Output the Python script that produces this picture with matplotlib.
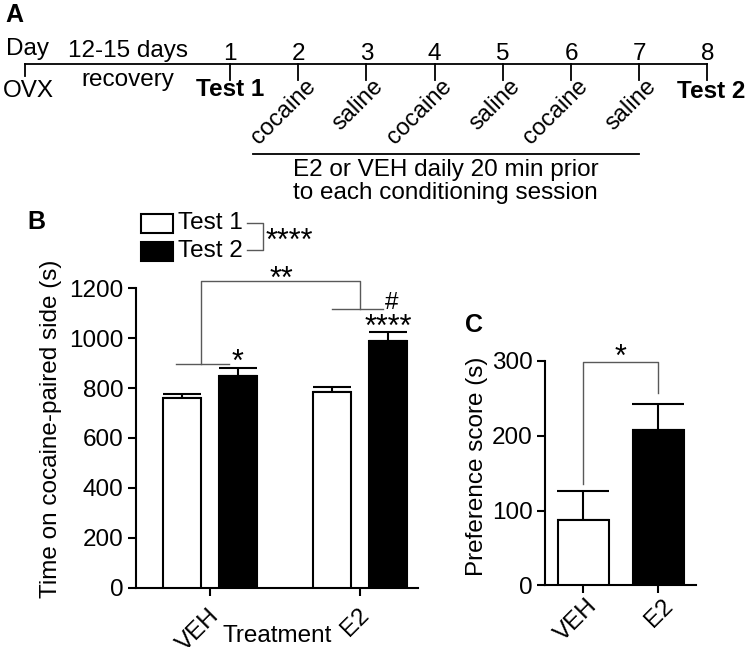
import numpy as np
import matplotlib
matplotlib.use("Agg")
import matplotlib.pyplot as plt
from matplotlib.patches import Rectangle
from matplotlib.transforms import ScaledTranslation

# ---- data ----
# panel A timeline
day_numbers = [1, 2, 3, 4, 5, 6, 7, 8]
session_days = [2, 3, 4, 5, 6, 7]
session_labels = ["cocaine", "saline", "cocaine", "saline", "cocaine", "saline"]
ovx_pos = -2

# panel B
groups = ["VEH", "E2"]
test1_mean = [761, 784]
test1_sem = [14, 19]
test2_mean = [847, 990]
test2_sem = [35, 34]

# panel C
pref_groups = ["VEH", "E2"]
pref_mean = [87, 208]
pref_sem = [39, 35]

W, H = 746, 647
FS = 17.5
STAR_FS = 22
LINE_C = "0.35"

plt.rcParams.update({
    "font.family": ["Liberation Sans", "DejaVu Sans"],
    "font.size": FS,
    "axes.linewidth": 1.5,
    "xtick.major.width": 1.5,
    "ytick.major.width": 1.5,
    "xtick.major.size": 6,
    "ytick.major.size": 6,
})

fig = plt.figure(figsize=(W / 100, H / 100), dpi=100)


def px(x, y):
    # figure pixel (top-left origin) -> figure fraction
    return x / W, 1 - y / H


def box(left, top, right, bottom):
    return [left / W, 1 - bottom / H, (right - left) / W, (bottom - top) / H]


def shift_labels(labels, dx):
    for lab in labels:
        lab.set_transform(lab.get_transform() + ScaledTranslation(dx / 100, 0, fig.dpi_scale_trans))


# ---------------- panel A ----------------
axA = fig.add_axes(box(0, 0, W, 200))
spacing = 68.2
x0 = 1 - 230 / spacing
axA.set_xlim(x0, x0 + W / spacing)
axA.set_ylim(200, 0)
axA.axis("off")

line_y = 64
axA.plot([ovx_pos, day_numbers[-1]], [line_y, line_y], color="black", lw=1.3)
axA.plot([ovx_pos, ovx_pos], [line_y, 76], color="black", lw=1.3)
for d in day_numbers:
    axA.plot([d, d], [line_y, 80], color="black", lw=1.3)
    axA.text(d, 60, str(d), ha="center", va="baseline")

axA.text(x0 + 6 / spacing, 55, "Day", ha="left", va="baseline")
axA.text((ovx_pos + day_numbers[0]) / 2, 57, "12-15 days", ha="center", va="baseline")
axA.text((ovx_pos + day_numbers[0]) / 2, 80, "recovery", ha="center", va="center")
axA.text(ovx_pos + 0.04, 91, "OVX", ha="center", va="center")
axA.text(day_numbers[0], 90, "Test 1", ha="center", va="center", fontweight="bold")
axA.text(day_numbers[-1] + 0.06, 91, "Test 2", ha="center", va="center", fontweight="bold")

for d, lab in zip(session_days, session_labels):
    axA.text(d + 0.09, 75, lab, rotation=45, ha="right", va="top",
             rotation_mode="anchor", fontsize=17)

u0, u1 = 1.33, session_days[-1]
axA.plot([u0, u1], [154, 154], color="black", lw=1.3)
axA.text((u0 + u1) / 2, 170, "E2 or VEH daily 20 min prior", ha="center", va="center")
axA.text((u0 + u1) / 2, 193, "to each conditioning session", ha="center", va="center")

fig.text(*px(5, 15), "A", ha="left", va="center", fontsize=18, fontweight="bold")

# ---------------- panel B ----------------
axB = fig.add_axes(box(136, 288.3, 418, 587.7))
x = np.arange(len(groups))
off, bw = 0.187, 0.253
zeros = np.zeros(len(groups))
axB.bar(x - off, test1_mean, width=bw, color="white", edgecolor="black", lw=1.5, zorder=3)
axB.bar(x + off, test2_mean, width=bw, color="black", edgecolor="black", lw=1.5, zorder=3)
axB.errorbar(x - off, test1_mean, yerr=[zeros, test1_sem], fmt="none", ecolor="black",
             elinewidth=1.5, capsize=14, capthick=1.5, zorder=2)
axB.errorbar(x + off, test2_mean, yerr=[zeros, test2_sem], fmt="none", ecolor="black",
             elinewidth=1.5, capsize=14, capthick=1.5, zorder=2)
axB.set_xlim(-0.493, 1.387)
axB.set_ylim(0, 1200)
axB.set_yticks(np.arange(0, 1201, 200))
axB.set_xticks(x)
axB.set_xticklabels(groups, rotation=45, ha="right", va="top", rotation_mode="anchor")
axB.tick_params(axis="x", pad=6)
axB.tick_params(axis="y", pad=3)
shift_labels(axB.get_xticklabels(), -2)
for s in ["top", "right"]:
    axB.spines[s].set_visible(False)
axB.set_ylabel("Time on cocaine-paired side (s)")
axB.yaxis.set_label_coords(-0.262, 0.532)
axB.set_xlabel("Treatment")
axB.xaxis.set_label_coords(0.5, -0.125)

# significance annotations
kw = dict(color=LINE_C, lw=1, clip_on=False)
axB.plot([-0.229, 0.125], [895, 895], **kw)
axB.plot([-0.058, -0.058, 1.0, 1.0], [895, 1230, 1230, 1117], **kw)
axB.plot([0.815, 1.155], [1117, 1117], **kw)
axB.text(0.478, 1203, "**", ha="center", va="baseline", fontsize=STAR_FS, clip_on=False)
axB.text(1.213, 1118, "#", ha="center", va="baseline", fontsize=FS, clip_on=False)
axB.text(1 + off, 1009, "****", ha="center", va="baseline", fontsize=STAR_FS, clip_on=False)
axB.text(off, 869, "*", ha="center", va="baseline", fontsize=STAR_FS, clip_on=False)

# legend
fig.patches.append(Rectangle(px(140.7, 232.7), 32.6 / W, 18.7 / H, transform=fig.transFigure,
                             facecolor="white", edgecolor="black", lw=1.5))
fig.patches.append(Rectangle(px(140.7, 260.7), 32.6 / W, 19 / H, transform=fig.transFigure,
                             facecolor="black", edgecolor="black", lw=1.5))
fig.text(*px(178, 223.5), "Test 1", ha="left", va="center")
fig.text(*px(178, 251), "Test 2", ha="left", va="center")
lx = [246.7 / W, 263.3 / W, 263.3 / W, 246.7 / W]
ly = [1 - 223.3 / H, 1 - 223.3 / H, 1 - 250 / H, 1 - 250 / H]
fig.add_artist(plt.Line2D(lx, ly, color=LINE_C, lw=1, transform=fig.transFigure))
fig.text(*px(266, 250), "****", ha="left", va="baseline", fontsize=STAR_FS)
fig.text(*px(27, 222), "B", ha="left", va="center", fontsize=18, fontweight="bold")

# ---------------- panel C ----------------
axC = fig.add_axes(box(545, 361, 696, 585.3))
xc = np.arange(len(pref_groups))
axC.bar(xc, pref_mean, width=0.68, color=["white", "black"], edgecolor="black", lw=1.5, zorder=3)
axC.errorbar(xc, pref_mean, yerr=[np.zeros(len(xc)), pref_sem], fmt="none", ecolor="black",
             elinewidth=1.5, capsize=19, capthick=1.5, zorder=2)
axC.set_xlim(-0.51, 1.5)
axC.set_ylim(0, 300)
axC.set_yticks([0, 100, 200, 300])
axC.set_xticks(xc)
axC.set_xticklabels(pref_groups, rotation=45, ha="right", va="top", rotation_mode="anchor")
axC.tick_params(axis="x", pad=1)
axC.tick_params(axis="y", pad=3)
shift_labels(axC.get_xticklabels(), 3)
for s in ["top", "right"]:
    axC.spines[s].set_visible(False)
axC.set_ylabel("Preference score (s)")
axC.yaxis.set_label_coords(-0.377, 0.532)
axC.plot([0, 0, 1, 1], [135, 299, 299, 257], **kw)
axC.text(0.49, 294, "*", ha="center", va="baseline", fontsize=STAR_FS, clip_on=False)
fig.text(*px(465, 325), "C", ha="left", va="center", fontsize=18, fontweight="bold")

fig.savefig("out.png", dpi=100)
